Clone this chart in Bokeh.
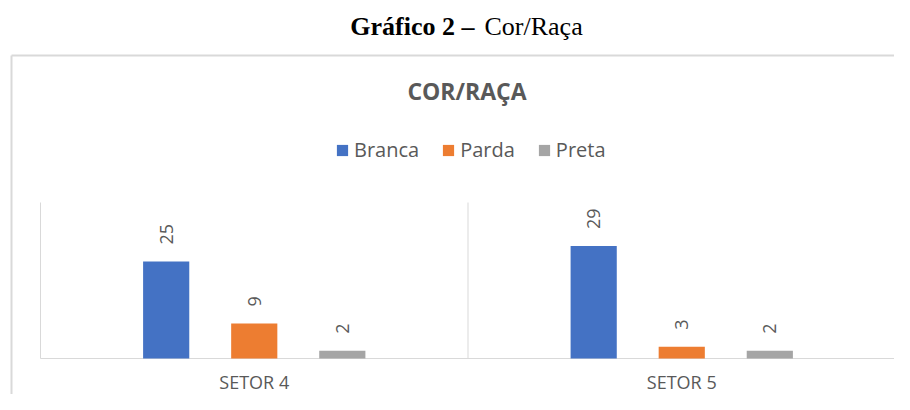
import math
from bokeh.plotting import figure
from bokeh.models import Range1d, ColumnDataSource, Legend, LegendItem
from bokeh.transform import dodge
from bokeh.core.properties import value
from bokeh.embed import file_html
from bokeh.resources import INLINE

# ---- data ----
header_bold = "Gráfico 2 –"
header_regular = "Cor/Raça"
chart_title = "COR/RAÇA"
setores = ["SETOR 4", "SETOR 5"]
series_names = ["Branca", "Parda", "Preta"]
branca = [25, 29]
parda = [9, 3]
preta = [2, 2]

# ---- styles / geometry ----
series_colors = ["#4472C4", "#ED7D31", "#A5A5A5"]
series_offsets = [-0.206, 0.0, 0.206]
BAR_W = 0.108
GRID_C = "#d9d9d9"
TEXT_C = "#595959"
FONT = "Open Sans"
SERIF = "Liberation Serif"

W, H = 894, 394
X0_PX, PX_PER_CAT = 40.0, 427.5      # plot-area left edge, width of one category
BASE_PX, PX_PER_UNIT = 358.0, 3.88   # baseline, pixels per value unit
PLOT_TOP_PX = 202.0


def dx(px):
    return (px - X0_PX) / PX_PER_CAT


def dy(py):
    return (BASE_PX - py) / PX_PER_UNIT


p = figure(width=W, height=H,
           x_range=Range1d(dx(0), dx(W)), y_range=Range1d(dy(H), dy(0)),
           output_backend="svg", toolbar_location=None,
           x_axis_location=None, y_axis_location=None,
           min_border=0, min_border_left=0, min_border_right=0,
           min_border_top=0, min_border_bottom=0)
p.outline_line_color = None
p.xgrid.visible = False
p.ygrid.visible = False
p.background_fill_color = "white"
p.border_fill_color = "white"

n_cat = len(setores)
cat_pos = [i + 0.5 for i in range(n_cat)]
y_top = dy(PLOT_TOP_PX)

# outer chart-area border (top and left edges)
p.segment(x0=[dx(11), dx(11)], y0=[dy(55), dy(55)], x1=[dx(W + 20), dx(11)], y1=[dy(55), dy(H + 20)],
          line_color=GRID_C, line_width=2)

# plot-area: category separators and baseline
p.segment(x0=list(range(n_cat + 1)), y0=[0] * (n_cat + 1), x1=list(range(n_cat + 1)),
          y1=[y_top] * (n_cat + 1), line_color=GRID_C, line_width=1)
p.segment(x0=[0], y0=[0], x1=[n_cat], y1=[0], line_color=GRID_C, line_width=1)

items = []
for name, vals, col, off in zip(series_names, [branca, parda, preta], series_colors, series_offsets):
    src = ColumnDataSource(dict(pos=cat_pos, v=vals, lab=[str(v) for v in vals]))
    r = p.vbar(x=dodge("pos", off), top="v", bottom=0, width=BAR_W,
               source=src, fill_color=col, line_color=None)
    p.text(x=dodge("pos", off), y="v", text="lab", source=src,
           angle=math.pi / 2, y_offset=-17, text_align="left", text_baseline="middle",
           text_font=value(FONT), text_font_size="18px", text_color=TEXT_C)
    items.append(LegendItem(label=name, renderers=[r]))

# category labels
p.text(x=cat_pos, y=[dy(381)] * n_cat, text=setores, text_align="center",
       text_baseline="alphabetic", text_font=value(FONT), text_font_size="18px",
       text_color=TEXT_C)

# chart title
p.text(x=[dx(466.5)], y=[dy(90)], text=[chart_title], text_align="center",
       text_baseline="alphabetic", text_font=value(FONT), text_font_size="23px",
       text_font_style="bold", text_color=TEXT_C)

# header caption
p.text(x=[dx(474)], y=[dy(26)], text=[header_bold], text_align="right",
       text_baseline="alphabetic", text_font=value(SERIF), text_font_size="26px",
       text_font_style="bold", text_color="black")
p.text(x=[dx(484)], y=[dy(26)], text=[header_regular], text_align="left",
       text_baseline="alphabetic", text_font=value(SERIF), text_font_size="26px",
       text_color="black")

legend = Legend(items=items, orientation="horizontal", location=(335, 231),
                glyph_width=14, glyph_height=14, label_standoff=5, spacing=22,
                padding=0, margin=0, border_line_color=None, background_fill_alpha=0,
                label_text_font=FONT, label_text_font_size="20px", label_text_color=TEXT_C)
p.add_layout(legend, "center")

open("out.html", "w").write(file_html(p, INLINE))
